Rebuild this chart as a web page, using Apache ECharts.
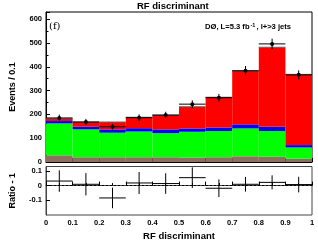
<!DOCTYPE html>
<html><head><meta charset="utf-8">
<script src="https://cdn.jsdelivr.net/npm/echarts@6/dist/echarts.min.js"></script>
<style>html,body{margin:0;padding:0;background:#fff}#c{width:318px;height:249px}</style>
</head><body><div id="c"></div>
<script>
// bin edges (RF discriminant)
var binLow  = [0.0,0.1,0.2,0.3,0.4,0.5,0.6,0.7,0.8,0.9];
var binHigh = [0.1,0.2,0.3,0.4,0.5,0.6,0.7,0.8,0.9,1.0];
// stacked MC components (events / 0.1)
var brownVals = [28,20,20,20,20,19,20,24,22,14];
var greenVals = [134,117,103,108,101,108,110,117,108,47];
var blueVals  = [10,11,14,14,16,14,15,17,18,10];
var redVals   = [10,20,31,46,60,91,127,225,334,297];
// data
var dataVals = [185,168,148,186,197,243,270,383,496,366];
var dataErrs = [14,13,12,14,14,16,16,20,22,19];
// ratio - 1
var ratioVals = [0.031,0.009,-0.084,0.018,0.014,0.054,-0.018,0.009,0.022,0.007];
var ratioErrs = [0.073,0.076,0.070,0.075,0.070,0.070,0.060,0.050,0.048,0.053];

var comps = [
  {vals: brownVals, color: '#8f6d5f'},
  {vals: greenVals, color: '#00ff00'},
  {vals: blueVals,  color: '#0000ff'},
  {vals: redVals,   color: '#ff0000'}
];
var stackRows = [];
for (var i = 0; i < binLow.length; i++) {
  var base = 0;
  for (var k = 0; k < comps.length; k++) {
    var v = comps[k].vals[i];
    stackRows.push([binLow[i], binHigh[i], base, base + v, k]);
    base += v;
  }
}
var topRows = [];
for (var j = 0; j < binLow.length; j++) {
  topRows.push([binLow[j], binHigh[j],
    brownVals[j] + greenVals[j] + blueVals[j] + redVals[j]]);
}
var dataRows = dataVals.map(function (v, i) { return [binLow[i], binHigh[i], v, dataErrs[i]]; });
var ratioRows = ratioVals.map(function (v, i) { return [binLow[i], binHigh[i], v, ratioErrs[i]]; });

var FONT = '"Liberation Sans", Arial, sans-serif';
var chart = echarts.init(document.getElementById('c'), null, {renderer: 'canvas'});

function errRender(withDot) {
  return function (params, api) {
    var x0 = api.value(0), x1 = api.value(1), y = api.value(2), e = api.value(3);
    var pL = api.coord([x0, y]), pR = api.coord([x1, y]);
    var xm = (x0 + x1) / 2;
    var pT = api.coord([xm, y + e]), pB = api.coord([xm, y - e]);
    var children = [
      {type: 'line', shape: {x1: pL[0], y1: pL[1], x2: pR[0], y2: pR[1]}, style: {stroke: '#000', lineWidth: 1}},
      {type: 'line', shape: {x1: pT[0], y1: pT[1], x2: pB[0], y2: pB[1]}, style: {stroke: '#000', lineWidth: 1}}
    ];
    if (withDot) {
      var pc = api.coord([xm, y]);
      children.push({type: 'circle', shape: {cx: pc[0], cy: pc[1], r: 2}, style: {fill: '#000'}});
    }
    return {type: 'group', children: children};
  };
}

var axisLabelStyle = {fontFamily: FONT, fontWeight: 'bold', fontSize: 7.5, color: '#000'};

chart.setOption({
  animation: false,
  title: [
    {text: 'RF discriminant', left: 137, top: 1, padding: 0,
     textStyle: {fontFamily: FONT, fontWeight: 'bold', fontSize: 9.5, color: '#000'}},
    {text: '(f)', left: 49, top: 21, padding: 0,
     textStyle: {fontFamily: '"DejaVu Serif", "Liberation Serif", serif', fontWeight: 'normal', fontSize: 10, color: '#000'}},
    {text: '{a|DØ, L=5.3 fb}{s|-1}{a|, l+>3 jets}', left: 205, top: 22, padding: 0,
     textStyle: {rich: {
       a: {fontFamily: FONT, fontSize: 7.6, color: '#000'},
       s: {fontFamily: FONT, fontSize: 5.5, color: '#000', verticalAlign: 'top', padding: [0, 1, 4, 1]}
     }}}
  ],
  grid: [
    {left: 43.5, right: 6, top: 12, height: 150, show: true, borderColor: '#000', borderWidth: 1, backgroundColor: 'transparent'},
    {left: 43.5, right: 6, top: 166.5, height: 48.5, show: true, borderColor: '#444', borderWidth: 1, backgroundColor: 'transparent'}
  ],
  xAxis: [
    {gridIndex: 0, type: 'value', min: 0, max: 1, interval: 0.1,
     axisLine: {lineStyle: {color: '#000'}}, axisTick: {inside: true, length: 4, lineStyle: {color: '#000'}},
     minorTick: {show: true, splitNumber: 2, length: 2.5, lineStyle: {color: '#000'}},
     axisLabel: {show: false}, splitLine: {show: false}},
    {gridIndex: 1, type: 'value', min: 0, max: 1, interval: 0.1,
     axisLine: {lineStyle: {color: '#444'}}, axisTick: {inside: true, length: 4, lineStyle: {color: '#000'}},
     minorTick: {show: true, splitNumber: 2, length: 2.5, lineStyle: {color: '#000'}},
     axisLabel: Object.assign({margin: 4, formatter: function (v) { return +v.toFixed(1) + ''; }}, axisLabelStyle),
     splitLine: {show: false},
     name: 'RF discriminant', nameLocation: 'middle', nameGap: 16,
     nameTextStyle: {fontFamily: FONT, fontWeight: 'bold', fontSize: 9.5, color: '#000'}}
  ],
  yAxis: [
    {gridIndex: 0, type: 'value', min: 0, max: 630, interval: 100,
     axisLine: {show: true, lineStyle: {color: '#000'}}, axisTick: {inside: true, length: 4, lineStyle: {color: '#000'}},
     minorTick: {show: true, splitNumber: 2, length: 2.5, lineStyle: {color: '#000'}},
     axisLabel: Object.assign({margin: 4, showMaxLabel: false,
       formatter: function (v) { return (v % 100 === 0) ? String(v) : ''; }}, axisLabelStyle),
     splitLine: {show: false},
     name: 'Events / 0.1', nameLocation: 'middle', nameGap: 29, nameRotate: 90,
     nameTextStyle: {fontFamily: FONT, fontWeight: 'bold', fontSize: 9, color: '#000'}},
    {gridIndex: 1, type: 'value', min: -0.2, max: 0.13, interval: 0.1,
     axisLine: {show: true, lineStyle: {color: '#444'}}, axisTick: {inside: true, length: 4, lineStyle: {color: '#000'}},
     minorTick: {show: false},
     axisLabel: Object.assign({margin: 4, showMaxLabel: false, showMinLabel: false,
       formatter: function (v) { var r = Math.round(v * 10) / 10; return r === 0 ? '0' : r.toFixed(1); }}, axisLabelStyle),
     splitLine: {show: false},
     name: 'Ratio - 1', nameLocation: 'middle', nameGap: 29, nameRotate: 90,
     nameTextStyle: {fontFamily: FONT, fontWeight: 'bold', fontSize: 9, color: '#000'}}
  ],
  series: [
    {type: 'custom', xAxisIndex: 0, yAxisIndex: 0, data: stackRows, clip: true,
     renderItem: function (params, api) {
       var p0 = api.coord([api.value(0), api.value(2)]);
       var p1 = api.coord([api.value(1), api.value(3)]);
       return {type: 'rect', shape: {x: p0[0], y: p1[1], width: p1[0] - p0[0], height: p0[1] - p1[1]},
               style: {fill: comps[api.value(4)].color}};
     }},
    {type: 'custom', xAxisIndex: 0, yAxisIndex: 0, data: topRows,
     renderItem: function (params, api) {
       var pL = api.coord([api.value(0), api.value(2)]);
       var pR = api.coord([api.value(1), api.value(2)]);
       return {type: 'line', shape: {x1: pL[0], y1: pL[1], x2: pR[0], y2: pR[1]}, style: {stroke: '#666', lineWidth: 1}};
     }},
    {type: 'custom', xAxisIndex: 0, yAxisIndex: 0, data: dataRows, renderItem: errRender(true), z: 5},
    {type: 'custom', xAxisIndex: 1, yAxisIndex: 1, data: ratioRows, renderItem: errRender(false), z: 5,
     markLine: {silent: true, symbol: 'none', label: {show: false},
       lineStyle: {type: [2, 2], color: '#000', width: 1}, data: [{yAxis: 0}]}}
  ]
});
</script>
</body></html>
